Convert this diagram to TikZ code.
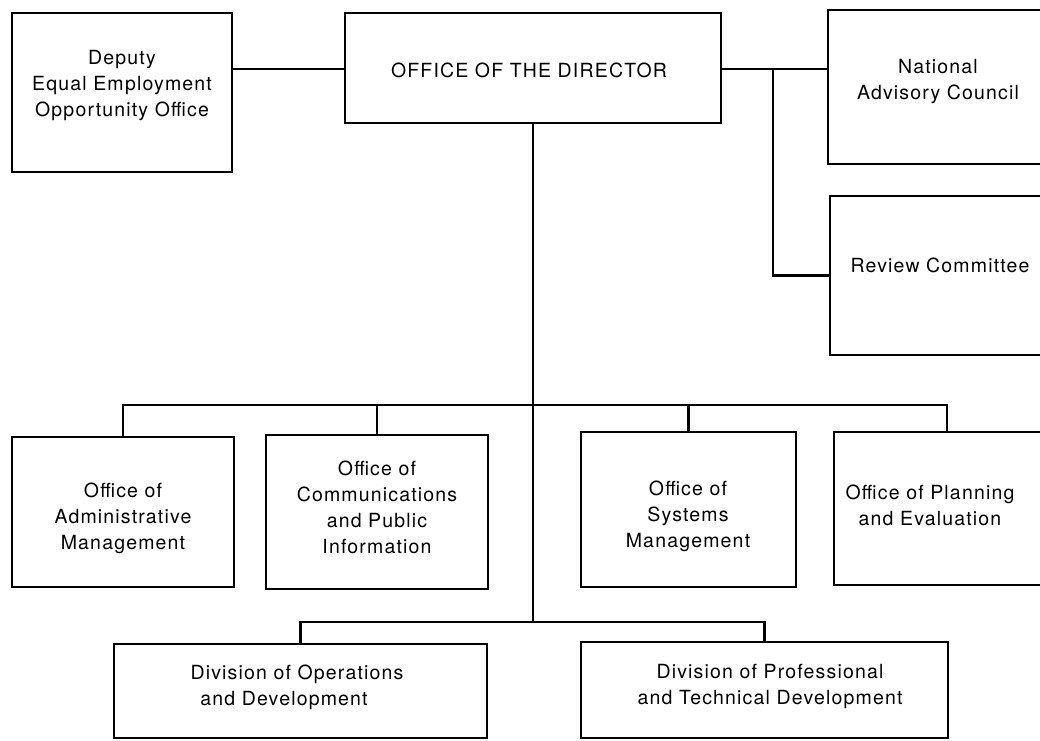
\documentclass[tikz,border=0pt]{standalone}
\usepackage{fontspec}
\newfontfamily\orgfont[LetterSpace=6]{TeX Gyre Heros}
\newcommand{\orgtext}{\orgfont\fontsize{19.5pt}{26pt}\selectfont}
\usetikzlibrary{positioning}

\tikzset{
	unit/.style={draw, line width=2.2pt, inner sep=0pt},
	unittext/.style={align=center, font=\orgtext, inner sep=0pt},
	link/.style={line width=2.2pt},
}

\begin{document}
\begin{tikzpicture}[x=1pt, y=-1pt]
		\useasboundingbox (0,0) rectangle (1040,740);
		\clip (0,0) rectangle (1040,740);
		% boxes
		\node[unit, minimum width=220, minimum height=159] (dep) at (122,92.5) {};
		\node[unit, minimum width=376, minimum height=110] (dir) at (533,68) {};
		\node[unit, minimum width=228, minimum height=154] (nac) at (942,87) {};
		\node[unit, minimum width=226, minimum height=159] (rev) at (943,275.5) {};
		\node[unit, minimum width=222, minimum height=150] (adm) at (123,512) {};
		\node[unit, minimum width=222, minimum height=154] (com) at (377,512) {};
		\node[unit, minimum width=215, minimum height=155] (sys) at (688.5,509.5) {};
		\node[unit, minimum width=226, minimum height=153] (pla) at (947,508.5) {};
		\node[unit, minimum width=373, minimum height=94] (ops) at (300.5,691) {};
		\node[unit, minimum width=367, minimum height=96] (pro) at (764.5,690) {};
		% texts
		\node[unittext] (dep-t) at (122,86) {Deputy\\Equal Employment\\Opportunity Office};
		\node[unittext] (dir-t) at (529,70) {OFFICE OF THE DIRECTOR};
		\node[unittext] (nac-t) at (938,82) {National\\Advisory Council};
		\node[unittext] (rev-t) at (940,265) {Review Committee};
		\node[unittext] (adm-t) at (123,518) {Office of\\Administrative\\Management};
		\node[unittext] (com-t) at (377,507) {Office of\\Communications\\and Public\\Information};
		\node[unittext] (sys-t) at (688,516) {Office of\\Systems\\Management};
		\node[unittext] (pla-t) at (930,505) {Office of Planning\\and Evaluation};
		\node[unittext, align=left] (ops-t) at (297,687) {Division of Operations\\\hspace{0.5em}and Development};
		\node[unittext] (pro-t) at (770,686) {Division of Professional\\and Technical Development};
		% connectors
		\coordinate (revj) at (773,69);
		\coordinate (obus) at (533,405);
		\coordinate (dbus) at (533,622);
		\draw[link] (dir.west |- 0,69) -- (dep.east |- 0,69);
		\draw[link] (dir.east |- 0,69) -- (nac.west |- 0,69);
		\draw[link] (revj) |- (rev.west);
		\draw[link] (dir.south) -- (dbus);
		\draw[link] (adm.north) |- (obus) -| (pla.north);
		\draw[link] (com.north) -- (com.north |- obus);
		\draw[link] (sys.north) -- (sys.north |- obus);
		\draw[link] (ops.north) |- (dbus) -| (pro.north);
	\end{tikzpicture}
\end{document}
